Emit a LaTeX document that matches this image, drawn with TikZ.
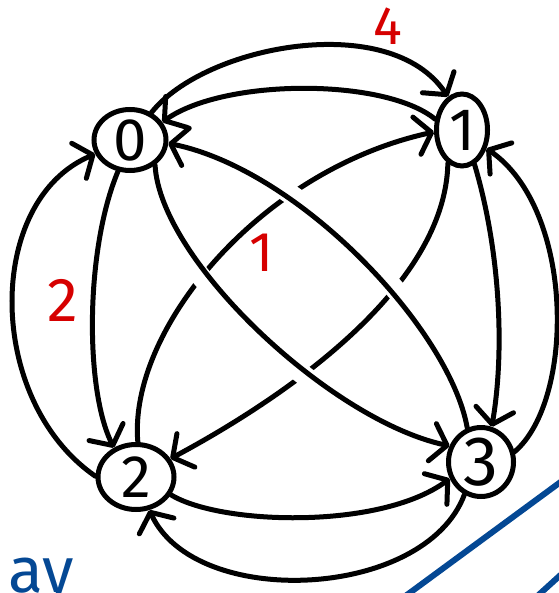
\documentclass[tikz,border=0pt]{standalone}
\usepackage{fontspec}
\setmainfont{Fira Sans}
\usetikzlibrary{arrows.meta,shapes.geometric}
\definecolor{redlab}{RGB}{214,0,0}
\definecolor{bluepen}{RGB}{4,72,148}
\begin{document}
\begin{tikzpicture}[x=1pt,y=-1pt,
  pen/.style={line width=5pt, line cap=round, line join=round},
  arr/.style={pen, -{Straight Barb[length=15pt,width=38pt,round]}},
  vert/.style={ellipse, draw, line width=5pt, inner sep=-6pt},
  lab/.style={text=redlab},
  over/.style={preaction={draw=white, line width=20pt, arrows=-, shorten <=30pt, shorten >=30pt}},
  bluestroke/.style={draw=bluepen, line width=6pt}]
\useasboundingbox (0,0) rectangle (558,593);
% vertices
\node[vert, minimum width=72pt, minimum height=61pt, font=\fontsize{60}{60}\selectfont] (n0) at (130,140) {0};
\node[vert, minimum width=51pt, minimum height=72pt, font=\fontsize{60}{60}\selectfont] (n1) at (462,130) {1};
\node[vert, minimum width=76pt, minimum height=65pt, font=\fontsize{60}{60}\selectfont] (n2) at (136,477) {2};
\node[vert, minimum width=65pt, minimum height=69pt, font=\fontsize{70}{70}\selectfont] (n3) at (481,462) {3};
% diagonals passing under
\draw[arr] (n2.87) .. controls (128,330) and (260,170) .. (n1.184);
\draw[arr] (n1.247) .. controls (445,290) and (280,400) .. (n2.28);
% diagonals passing over
\draw[arr, over] (n0.-45) .. controls (160,260) and (330,420) .. (n3.153);
\draw[arr, over] (n3.112) .. controls (450,330) and (300,170) .. (n0.-5);
% top
\draw[arr] (n0.52) .. controls (205,45) and (390,10) .. (n1.113);
\draw[arr] (n1.158) .. controls (385,78) and (225,78) .. (n0.29);
% left
\draw[arr] (n0.-111) .. controls (85,250) and (85,390) .. (n2.127);
\draw[arr] (n2.179) .. controls (-15,400) and (-15,200) .. (n0.202);
% right
\draw[arr] (n1.-70) .. controls (500,250) and (505,350) .. (n3.73);
\draw[arr] (n3.17) .. controls (575,400) and (575,210) .. (n1.-37);
% bottom
\draw[arr] (n2.-27) .. controls (220,525) and (380,530) .. (n3.208);
\draw[arr] (n3.243) .. controls (425,600) and (195,610) .. (n2.-68);
% red labels
\node[lab, font=\fontsize{54}{54}\selectfont] (l4) at (388,26) {4};
\node[lab, font=\fontsize{62}{62}\selectfont] (l2) at (63,300) {2};
\node[lab, font=\fontsize{56}{56}\selectfont] (l1) at (262,253) {1};
% blue fragments
\node[text=bluepen, font=\fontsize{64}{64}\selectfont, anchor=base east, inner sep=0pt] (ay) at (74,592) {ay};
\coordinate (b1s) at (400,600);
\coordinate (b1e) at (566,478);
\coordinate (b2s) at (533,600);
\coordinate (b2e) at (566,570);
\draw[bluestroke] (b1s) -- (b1e);
\draw[bluestroke] (b2s) -- (b2e);
\end{tikzpicture}
\end{document}
